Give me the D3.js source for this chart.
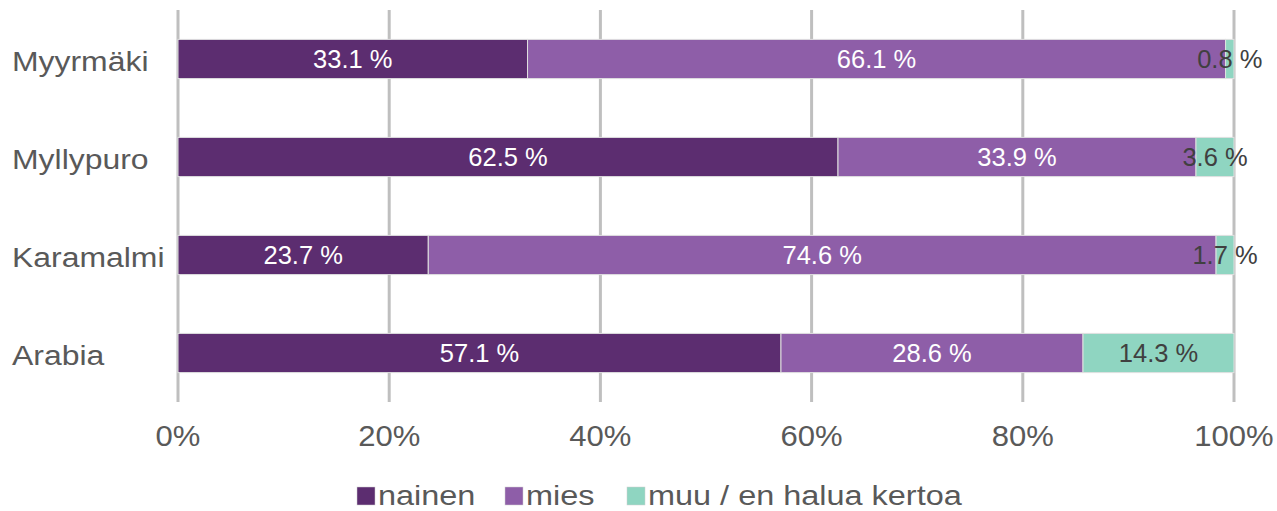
<!DOCTYPE html>
<html><head><meta charset="utf-8">
<script src="https://cdn.jsdelivr.net/npm/d3@7"></script>
<style>body{margin:0;background:#fff;}svg{display:block;font-family:"Liberation Sans",Arial,sans-serif;}</style>
</head><body><svg id="c" width="1277" height="511"></svg>
<script>
const categories = ["Myyrmäki","Myllypuro","Karamalmi","Arabia"];
const seriesNames = ["nainen","mies","muu / en halua kertoa"];
const nainen = [33.1, 62.5, 23.7, 57.1];
const mies = [66.1, 33.9, 74.6, 28.6];
const muu = [0.8, 3.6, 1.7, 14.3];
const tickValues = [0,20,40,60,80,100];
const colors = ["#5c2d70","#8e5ea8","#8fd5c1"];
const labelColors = ["#ffffff","#ffffff","#404040"];

const svg = d3.select("#c");
const x = d3.scaleLinear().domain([0,100]).range([178,1234]);
const y = d3.scaleBand().domain(categories).range([10,402]).paddingInner(0.6).paddingOuter(0.3);

// gridlines
svg.append("g").selectAll("line").data(tickValues).join("line")
  .attr("x1",d=>x(d)).attr("x2",d=>x(d)).attr("y1",10).attr("y2",402)
  .attr("stroke","#bfbfbf").attr("stroke-width",3);

const rows = categories.map((c,i)=>({cat:c, vals:[nainen[i],mies[i],muu[i]]}));
const segs = [];
rows.forEach(r=>{let acc=0; r.vals.forEach((v,k)=>{segs.push({cat:r.cat,k,v,x0:acc,x1:acc+v}); acc+=v;});});

svg.append("g").selectAll("rect").data(segs).join("rect")
  .attr("x",d=>x(d.x0)).attr("width",d=>x(Math.min(d.x1,100))-x(d.x0))
  .attr("y",d=>y(d.cat)).attr("height",y.bandwidth())
  .attr("fill",d=>colors[d.k]).attr("stroke","#e0e0e0").attr("stroke-width",1);

svg.append("g").selectAll("text").data(segs).join("text")
  .attr("transform",d=>`translate(${x((d.x0+Math.min(d.x1,100))/2)},${y(d.cat)+y.bandwidth()/2+9})`)
  .attr("text-anchor","middle")
  .attr("font-size",25.5).attr("fill",d=>labelColors[d.k])
  .text(d=>d.v.toFixed(1)+" %");

// category labels
svg.append("g").selectAll("text").data(categories).join("text")
  .attr("transform",d=>`translate(12,${y(d)+y.bandwidth()/2+11.5}) scale(1.14,1)`)
  .attr("font-size",28).attr("fill","#595959").text(d=>d);

// x axis labels
const ax = d3.axisBottom(x).tickValues(tickValues).tickFormat(d=>d+"%").tickSize(0).tickPadding(0);
const g = svg.append("g").attr("transform","translate(0,446)").call(ax);
g.select(".domain").remove();
g.selectAll("text").attr("font-size",29).attr("fill","#595959")
  .attr("font-family","Liberation Sans, Arial, sans-serif").attr("dy",0).attr("y",0)
  .attr("transform","scale(1.07,1)");
g.selectAll(".tick").attr("transform",d=>`translate(${x(d)},0)`);

// legend
const legX = [357,505,627];
const leg = svg.append("g").selectAll("g").data(seriesNames).join("g")
  .attr("transform",(d,i)=>`translate(${legX[i]},487)`);
leg.append("rect").attr("width",18).attr("height",18).attr("fill",(d,i)=>colors[i]).attr("stroke","#d0d0d0").attr("stroke-width",0.5);
leg.append("text").attr("transform","translate(21,18) scale(1.18,1)").attr("font-size",27.5).attr("fill","#595959").text(d=>d);
</script></body></html>
